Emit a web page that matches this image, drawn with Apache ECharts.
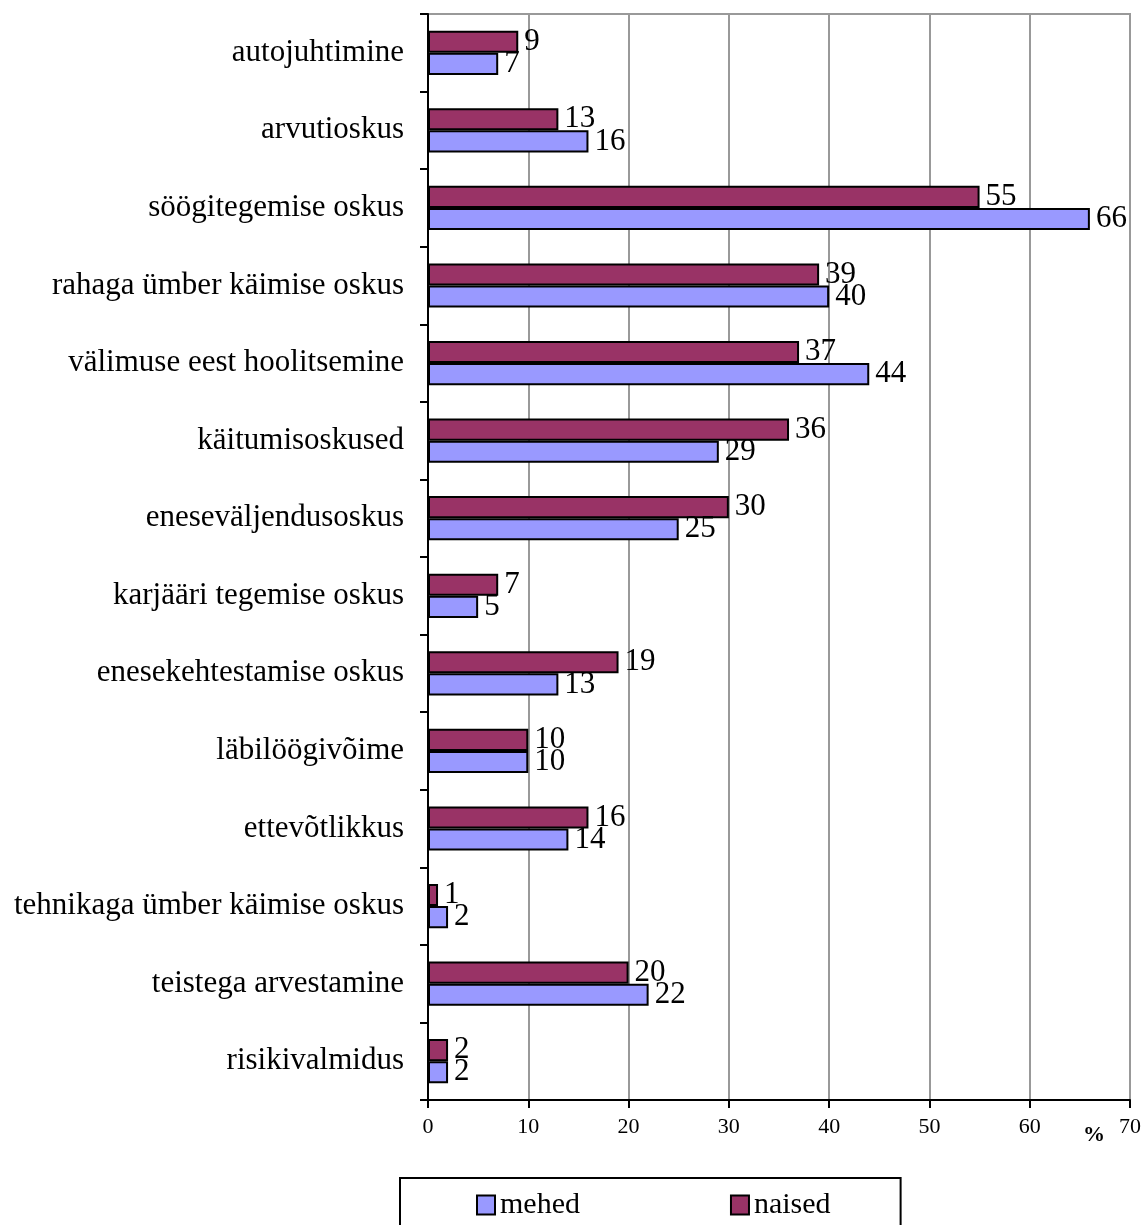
<!DOCTYPE html>
<html>
<head>
<meta charset="utf-8">
<script src="https://cdn.jsdelivr.net/npm/echarts@6/dist/echarts.min.js"></script>
<style>
    html, body { margin: 0; padding: 0; background: #fff; }
    #main { width: 1147px; height: 1225px; }
</style>
</head>
<body>
<div id="main"></div>
<script type="text/javascript">
    // andmed (ülevalt alla)
    var categories = ['autojuhtimine', 'arvutioskus', 'söögitegemise oskus', 'rahaga ümber käimise oskus',
        'välimuse eest hoolitsemine', 'käitumisoskused', 'eneseväljendusoskus', 'karjääri tegemise oskus',
        'enesekehtestamise oskus', 'läbilöögivõime', 'ettevõtlikkus', 'tehnikaga ümber käimise oskus',
        'teistega arvestamine', 'risikivalmidus'];
    var naised = [9, 13, 55, 39, 37, 36, 30, 7, 19, 10, 16, 1, 20, 2];
    var mehed = [7, 16, 66, 40, 44, 29, 25, 5, 13, 10, 14, 2, 22, 2];
    var xTicks = [0, 10, 20, 30, 40, 50, 60, 70];

    var serif = 'Liberation Serif';
    var myChart = echarts.init(document.getElementById('main'));

    function barLabel() {
        return {
            show: true,
            position: 'right',
            distance: 6,
            color: '#000',
            fontFamily: serif,
            fontSize: 31
        };
    }

    var option = {
        animation: false,
        backgroundColor: '#fff',
        textStyle: { fontFamily: serif },
        grid: {
            left: 428,
            right: 17,
            top: 14,
            bottom: 125,
            show: true,
            borderColor: '#999',
            borderWidth: 2
        },
        legend: {
            data: ['mehed', 'naised'],
            icon: 'rect',
            left: 400,
            top: 1178,
            padding: [12, 70, 30, 76],
            itemGap: 150,
            itemWidth: 18,
            itemHeight: 19,
            borderColor: '#000',
            borderWidth: 2,
            textStyle: { fontFamily: serif, fontSize: 30, color: '#000' }
        },
        xAxis: {
            type: 'value',
            min: xTicks[0],
            max: xTicks[xTicks.length - 1],
            interval: 10,
            axisLine: { show: true, lineStyle: { color: '#000', width: 2 } },
            axisTick: { show: true, length: 8, lineStyle: { color: '#000', width: 2 } },
            axisLabel: { margin: 16, fontFamily: serif, fontSize: 22, color: '#000' },
            splitLine: { show: true, lineStyle: { color: '#999', width: 2 } }
        },
        yAxis: {
            type: 'category',
            inverse: true,
            data: categories,
            axisLine: { show: true, lineStyle: { color: '#000', width: 2 } },
            axisTick: { show: true, length: 8, lineStyle: { color: '#000', width: 2 } },
            axisLabel: { margin: 24, fontFamily: serif, fontSize: 31, color: '#000' }
        },
        graphic: [{
            type: 'text',
            left: 1083,
            top: 1124,
            style: { text: '%', font: 'bold 22px "Liberation Serif"', fill: '#000' }
        }],
        series: [
            {
                name: 'naised',
                type: 'bar',
                data: naised,
                barGap: '0%',
                barCategoryGap: '43%',
                itemStyle: { color: '#993366', borderColor: '#000', borderWidth: 2 },
                label: barLabel()
            },
            {
                name: 'mehed',
                type: 'bar',
                data: mehed,
                barGap: '0%',
                barCategoryGap: '43%',
                itemStyle: { color: '#9999FF', borderColor: '#000', borderWidth: 2 },
                label: barLabel()
            }
        ]
    };
    myChart.setOption(option);
</script>
</body>
</html>
